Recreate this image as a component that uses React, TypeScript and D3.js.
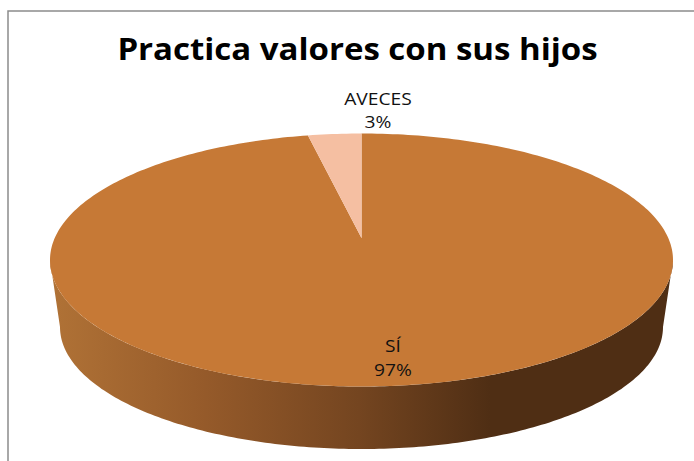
import React from "react";
import * as d3 from "d3";

const categories = ["SÍ", "AVECES"];
const values = [0.9725, 0.0275];
const colors = ["#C67936", "#F5BFA2"];
const title = "Practica valores con sus hijos";

const width = 694;
const height = 461;

// top face and the smaller floor ellipse of the 3d disc
const top = { cx: 361.5, cy: 260, rx: 311.5, ry: 126.5 };
const floor = { cx: 361.5, cy: 327, rx: 301.5, ry: 122 };
const apex: [number, number] = [361.5, 238];

const pct = d3.format(".0%");

function onEllipse(e: typeof top, a: number): [number, number] {
  return [e.cx + e.rx * Math.sin(a), e.cy - e.ry * Math.cos(a)];
}

function arcPoints(e: typeof top, a0: number, a1: number) {
  const n = Math.max(2, Math.ceil(Math.abs(a1 - a0) * 60));
  return d3.range(n + 1).map((i) => onEllipse(e, a0 + ((a1 - a0) * i) / n));
}

const line = d3.line();

// the source picture is stretched sideways, so the text is too
function Label({ x, y, text }: { x: number; y: number; text: string }) {
  return (
    <text transform={`translate(${x},${y}) scale(1.24,1)`} textAnchor="middle">
      {text}
    </text>
  );
}

function App() {
  const pie = d3
    .pie<number>()
    .sort(null)
    .startAngle(0)
    .endAngle(2 * Math.PI);
  const slices = pie(values);

  // side wall: front half of the top face, back along the floor ellipse
  const side =
    line([
      ...arcPoints(top, Math.PI * 1.5, Math.PI * 0.5),
      ...arcPoints(floor, Math.PI * 0.5, Math.PI * 1.5),
    ]) + "Z";

  return (
    <svg
      width={width}
      height={height}
      style={{ position: "absolute", left: 0, top: 0, background: "#fff" }}
      fontFamily="'Open Sans', sans-serif"
    >
      <defs>
        <linearGradient id="wall" gradientUnits="userSpaceOnUse" x1={52} x2={490} y1={0} y2={0}>
          <stop offset="0" stopColor="#B07236" />
          <stop offset="0.35" stopColor="#955A2A" />
          <stop offset="0.7" stopColor="#744520" />
          <stop offset="1" stopColor="#4F2E14" />
        </linearGradient>
      </defs>

      <path d={`M${width},11H8V${height}`} fill="none" stroke="#8C8C8C" strokeWidth={1.5} />

      <text
        transform="translate(357.5,60) scale(1.1,1)"
        textAnchor="middle"
        fontSize={30}
        fontWeight={700}
        fill="#000"
      >
        {title}
      </text>

      <path d={side} fill="url(#wall)" />

      {slices.map((s, i) => (
        <path
          key={categories[i]}
          d={line([apex, ...arcPoints(top, s.startAngle, s.endAngle)]) + "Z"}
          fill={colors[i]}
        />
      ))}

      <g fontSize={15.5} fill="#111">
        <Label x={393} y={352} text={categories[0]} />
        <Label x={393} y={376} text={pct(values[0])} />
        <Label x={378} y={105} text={categories[1]} />
        <Label x={378} y={128} text={pct(values[1])} />
      </g>
    </svg>
  );
}

export default App;
